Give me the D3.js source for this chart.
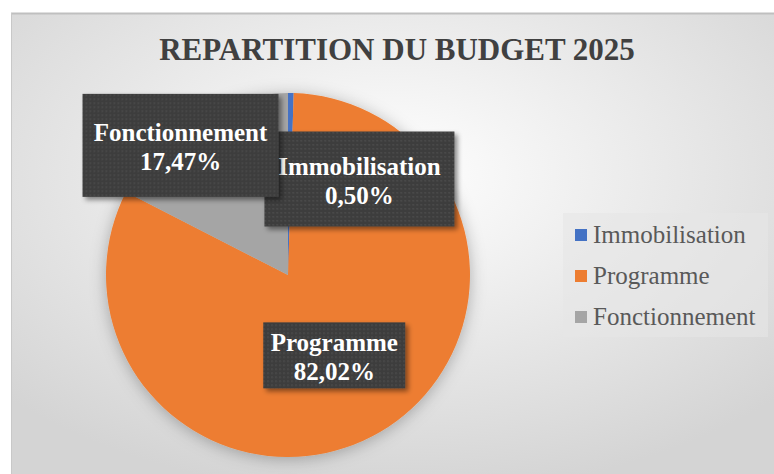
<!DOCTYPE html>
<html>
<head>
	<meta charset="UTF-8">
	<title>Repartition du budget 2025</title>
	<script src="https://d3js.org/d3.v7.min.js"></script>
	<style>
		body { margin: 0; background: #fff; }
		svg { display: block; }
	</style>
</head>
<body>
	<svg width="774" height="474"></svg>
	<script>
		// data
		var categories = ["Immobilisation", "Programme", "Fonctionnement"];
		var shares = [0.50, 82.02, 17.47];
		var colors = ["#4472C4", "#ED7D31", "#A5A5A5"];

		// label boxes were dragged by hand in the original, nudge from centroid
		var labelNudge = [[70, -5], [0, 2], [-60, -52]];
		var labelBox = [[190, 95], [142, 66], [196, 103]];
		var drawOrder = [1, 0, 2];

		var width = 774, height = 474;
		var svg = d3.select("svg");
		var defs = svg.append("defs");

		// background gradient
		var bg = defs.append("radialGradient").attr("id", "bg")
			.attr("cx", "50%").attr("cy", "35%").attr("r", "70%");
		bg.append("stop").attr("offset", "0%").attr("stop-color", "#ffffff");
		bg.append("stop").attr("offset", "100%").attr("stop-color", "#d4d4d4");

		// dotted fill for label boxes
		var pat = defs.append("pattern").attr("id", "dots")
			.attr("width", 4).attr("height", 4).attr("patternUnits", "userSpaceOnUse");
		pat.append("rect").attr("width", 4).attr("height", 4).attr("fill", "#3d3d3d");
		pat.append("rect").attr("x", 1).attr("y", 1).attr("width", 1.5).attr("height", 1.5).attr("fill", "#4e4e4e");

		var sh = defs.append("filter").attr("id", "shadow")
			.attr("x", "-20%").attr("y", "-20%").attr("width", "140%").attr("height", "140%");
		sh.append("feDropShadow").attr("dx", 3).attr("dy", 3).attr("stdDeviation", 2.5)
			.attr("flood-color", "#000").attr("flood-opacity", 0.45);

		var pieSh = defs.append("filter").attr("id", "pieShadow")
			.attr("x", "-20%").attr("y", "-20%").attr("width", "140%").attr("height", "140%");
		pieSh.append("feDropShadow").attr("dx", 0).attr("dy", 2).attr("stdDeviation", 8)
			.attr("flood-color", "#000").attr("flood-opacity", 0.28);

		// chart area
		svg.append("rect")
			.attr("x", 11).attr("y", 13)
			.attr("width", width - 11).attr("height", height - 13)
			.attr("fill", "url(#bg)");
		svg.append("line")
			.attr("x1", 11).attr("x2", width).attr("y1", 13.5).attr("y2", 13.5)
			.attr("stroke", "#bfbfbf").attr("stroke-width", 2);
		svg.append("line")
			.attr("x1", 11.5).attr("x2", 11.5).attr("y1", 13).attr("y2", height)
			.attr("stroke", "#c8c8c8").attr("stroke-width", 1);

		// title
		svg.append("text")
			.attr("x", 397).attr("y", 60)
			.attr("text-anchor", "middle")
			.attr("font-family", "'Liberation Serif', 'Times New Roman', serif")
			.attr("font-weight", "bold")
			.attr("font-size", "31px")
			.attr("fill", "#404040")
			.text("REPARTITION DU BUDGET 2025");

		// pie
		var cx = 288, cy = 275, r = 182;
		var pie = d3.pie().sort(null).value(d => d)(shares);
		var arc = d3.arc().innerRadius(0).outerRadius(r);
		var labelArc = d3.arc().innerRadius(r / 2).outerRadius(r / 2);

		var g = svg.append("g").attr("transform", "translate(" + cx + "," + cy + ")");
		g.append("g").attr("filter", "url(#pieShadow)")
			.selectAll("path")
			.data(pie)
			.enter()
			.append("path")
			.attr("d", arc)
			.attr("fill", (d, i) => colors[i]);

		// data labels
		var fmt = v => d3.format(".2f")(v).replace(".", ",") + "%";
		var labels = g.selectAll(".lbl")
			.data(drawOrder.map(i => pie[i]))
			.enter()
			.append("g")
			.attr("class", "lbl")
			.attr("transform", function (d) {
				var c = labelArc.centroid(d);
				var n = labelNudge[d.index];
				return "translate(" + (c[0] + n[0]) + "," + (c[1] + n[1]) + ")";
			});

		labels.append("rect")
			.attr("x", d => -labelBox[d.index][0] / 2)
			.attr("y", d => -labelBox[d.index][1] / 2)
			.attr("width", d => labelBox[d.index][0])
			.attr("height", d => labelBox[d.index][1])
			.attr("fill", "url(#dots)")
			.attr("filter", "url(#shadow)");

		labels.append("text")
			.attr("text-anchor", "middle")
			.attr("font-family", "'Liberation Serif', 'Times New Roman', serif")
			.attr("font-weight", "bold")
			.attr("font-size", "25px")
			.attr("fill", "#ffffff")
			.each(function (d) {
				var t = d3.select(this);
				t.append("tspan").attr("x", 0).attr("y", -4).text(categories[d.index]);
				t.append("tspan").attr("x", 0).attr("y", 25).text(fmt(d.value));
			});

		// legend
		var legend = svg.append("g").attr("transform", "translate(563,213)");
		legend.append("rect")
			.attr("width", 205).attr("height", 124)
			.attr("fill", "#e6e6e6").attr("opacity", 0.6);
		var items = legend.selectAll(".item")
			.data(categories)
			.enter()
			.append("g")
			.attr("class", "item")
			.attr("transform", (d, i) => "translate(12," + (22 + i * 41) + ")");
		items.append("rect")
			.attr("x", 0).attr("y", -6)
			.attr("width", 12).attr("height", 12)
			.attr("fill", (d, i) => colors[i]);
		items.append("text")
			.attr("x", 18).attr("y", 8)
			.attr("font-family", "'Liberation Serif', 'Times New Roman', serif")
			.attr("font-size", "25px")
			.attr("fill", "#595959")
			.text(d => d);
	</script>
</body>
</html>
